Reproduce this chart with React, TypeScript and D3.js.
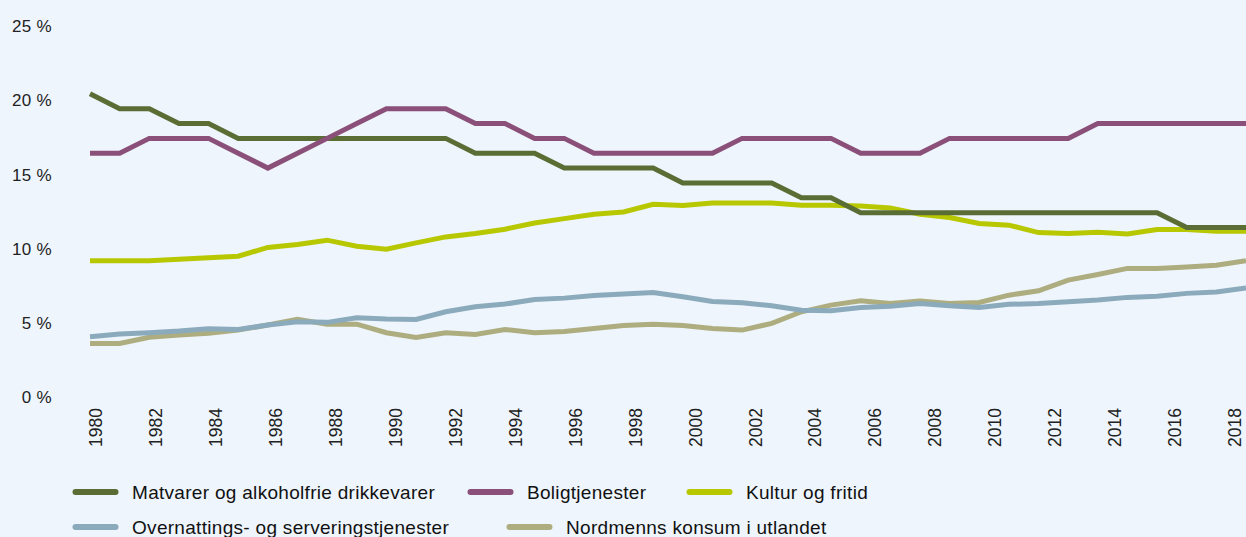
import React from 'react';
import {scaleLinear, line} from 'd3';

// years 1980-2019, one value per year (share of household consumption, %)
const years = Array.from({length: 40}, (_, i) => 1980 + i);
const tickYears = years.filter(y => y % 2 === 0 && y <= 2018);
const yTicks = [0, 5, 10, 15, 20, 25];

const matvarer = [20, 19, 19, 18, 18, 17, 17, 17, 17, 17, 17, 17, 17, 16, 16, 16, 15, 15, 15, 15,
    14, 14, 14, 14, 13, 13, 12, 12, 12, 12, 12, 12, 12, 12, 12, 12, 12, 11, 11, 11];
const bolig = [16, 16, 17, 17, 17, 16, 15, 16, 17, 18, 19, 19, 19, 18, 18, 17, 17, 16, 16, 16,
    16, 16, 17, 17, 17, 17, 16, 16, 16, 17, 17, 17, 17, 17, 18, 18, 18, 18, 18, 18];
const kultur = [8.76, 8.76, 8.76, 8.87, 8.96, 9.07, 9.66, 9.86, 10.15, 9.74, 9.54, 9.97, 10.37, 10.6, 10.89, 11.31, 11.6, 11.9, 12.05, 12.57,
    12.48, 12.65, 12.65, 12.65, 12.5, 12.5, 12.45, 12.32, 11.9, 11.67, 11.27, 11.16, 10.66, 10.6, 10.69, 10.57, 10.87, 10.87, 10.75, 10.75];
const overnatting = [3.65, 3.83, 3.92, 4.03, 4.19, 4.14, 4.44, 4.66, 4.62, 4.93, 4.84, 4.82, 5.33, 5.67, 5.85, 6.16, 6.25, 6.43, 6.52, 6.63,
    6.34, 6.03, 5.94, 5.73, 5.44, 5.4, 5.62, 5.71, 5.89, 5.73, 5.62, 5.83, 5.89, 6.0, 6.12, 6.3, 6.38, 6.57, 6.67, 6.94];
const utlandet = [3.2, 3.2, 3.61, 3.76, 3.88, 4.1, 4.44, 4.82, 4.5, 4.5, 3.92, 3.61, 3.92, 3.81, 4.14, 3.92, 4.01, 4.21, 4.41, 4.5,
    4.41, 4.21, 4.1, 4.55, 5.33, 5.78, 6.07, 5.89, 6.05, 5.89, 5.96, 6.45, 6.74, 7.46, 7.84, 8.25, 8.25, 8.35, 8.47, 8.76];

const series = [
    {name: 'Matvarer og alkoholfrie drikkevarer', values: matvarer, color: '#5a6d35'},
    {name: 'Boligtjenester', values: bolig, color: '#8a5079'},
    {name: 'Kultur og fritid', values: kultur, color: '#b8c800'},
    {name: 'Overnattings- og serveringstjenester', values: overnatting, color: '#8babbd'},
    {name: 'Nordmenns konsum i utlandet', values: utlandet, color: '#adad80'},
];
// draw order, back to front
const drawOrder = [2, 4, 3, 0, 1];

const W = 1246, H = 537;
const FONT = '"Liberation Sans", Arial, sans-serif';

// legend placement (row, x of line sample) for each series
const legendPos = [[0, 73], [0, 468], [0, 687], [1, 73], [1, 507]];
const legendRowY = [492, 527];

const App = () => {
    const x = scaleLinear().domain([1980, 2019]).range([90, 1246]);
    const xTick = scaleLinear().domain([1980, 2018]).range([96, 1235]);
    const y = scaleLinear().domain([0, 25]).range([391, 19.5]);

    const path = line<number>()
        .x((d, i) => x(years[i]))
        .y(d => y(d));

    return (
        <svg width={W} height={H} style={{position: 'absolute', left: 0, top: 0, background: '#eef5fc'}}
             fontFamily={FONT}>
            <rect width={W} height={H} fill="#eef5fc"/>
            {/* y axis labels */}
            {yTicks.map(t => (
                <text key={t} x={52} y={y(t) + 6.5} dy="0.35em" textAnchor="end" fontSize={17}
                      letterSpacing={0.3} fill="#222">
                    {t} %
                </text>
            ))}
            {/* x axis labels, rotated */}
            {tickYears.map(yr => (
                <text key={yr} transform={`translate(${xTick(yr)},408) rotate(-90)`} dy="0.35em"
                      textAnchor="end" fontSize={17.5} fill="#222">
                    {yr}
                </text>
            ))}
            {/* lines */}
            {drawOrder.map(i => (
                <path key={series[i].name} d={path(series[i].values) || ''} fill="none"
                      stroke={series[i].color} strokeWidth={5}/>
            ))}
            {/* legend */}
            {series.map((s, i) => {
                const [row, lx] = legendPos[i];
                const ly = legendRowY[row];
                return (
                    <g key={s.name}>
                        <line x1={lx + 2.5} x2={lx + 42.5} y1={ly} y2={ly} stroke={s.color}
                              strokeWidth={6} strokeLinecap="round"/>
                        <text x={lx + 59} y={ly} dy="0.35em" fontSize={19} letterSpacing={0.3}
                              fill="#111">{s.name}</text>
                    </g>
                );
            })}
        </svg>
    );
};

export default App;
